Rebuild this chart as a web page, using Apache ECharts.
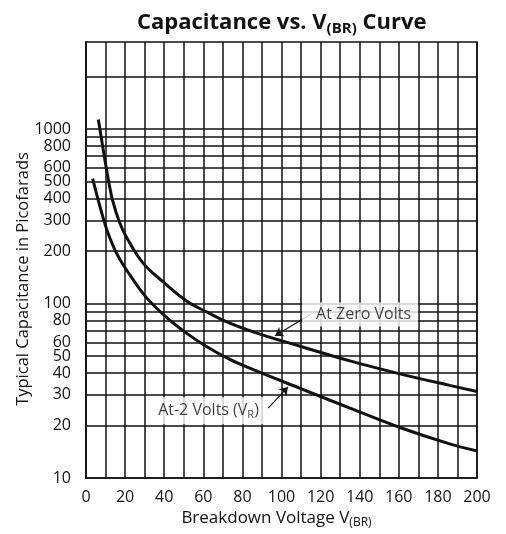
<!DOCTYPE html>
<html><head><meta charset="utf-8">
<script src="https://cdn.jsdelivr.net/npm/echarts@6/dist/echarts.min.js"></script>
<style>html,body{margin:0;padding:0;background:#fff}#c{width:506px;height:534px}</style>
</head><body><div id="c"></div>
<script>
// Data
const zeroVoltsV = [6.3, 9.7, 11.6, 13.6, 17, 20.5, 29, 39.2, 51.2, 61.4, 73.3, 87, 109.5, 135, 160.6, 186, 200];
const zeroVoltsC = [1137, 664, 503, 391, 296, 243, 172, 134, 104, 90, 77.5, 68, 57, 47, 39.6, 34, 31.4];
const minus2V = [3.4, 7.7, 11.1, 16.2, 22.1, 30.7, 40.9, 51.2, 61.4, 73.3, 83.7, 109.5, 135, 160.6, 186, 200];
const minus2C = [521, 342, 257, 189, 148, 109, 84, 68, 57, 48.1, 42.7, 32.7, 25.2, 19.5, 15.7, 14.3];
const yTickLabels = [10, 20, 30, 40, 50, 60, 80, 100, 200, 300, 400, 500, 600, 800, 1000];
const yGridValues = [20, 30, 40, 50, 60, 70, 80, 90, 100, 200, 300, 400, 500, 600, 700, 800, 900, 1000, 2000];
const xMin = 0, xMax = 200, xGridStep = 10, xLabelStep = 20;
const yMin = 10, yMax = 3162;
// annotations: label centre, arrow [start, tip]
const zeroLabel = [140.2, 86.8];
const zeroArrow = [[115.4, 87.5], [96.7, 65.5]];
const m2Label = [61.9, 24.3];
const m2Arrow = [[93.2, 25.2], [103.3, 33.3]];

const FONT = 'Open Sans';
const INK = '#111';
const pair = (xs, ys) => xs.map((x, i) => [x, ys[i]]);

const chart = echarts.init(document.getElementById('c'), null, {renderer: 'canvas'});
chart.setOption({
  animation: false,
  backgroundColor: '#fff',
  title: {
    text: '{a|Capacitance vs. V}{s|(BR)}{a| Curve}',
    left: 132, top: 3,
    textStyle: {
      rich: {
        a: {fontFamily: FONT, fontWeight: 'bold', fontSize: 22, color: INK, lineHeight: 30},
        s: {fontFamily: FONT, fontWeight: 'bold', fontSize: 15, color: INK, padding: [11, 0, 0, 0], lineHeight: 30}
      }
    }
  },
  graphic: [{
    type: 'text', x: 23, y: 279, rotation: Math.PI / 2, silent: true,
    style: {text: 'Typical Capacitance in Picofarads', fontFamily: FONT, fontSize: 16.5, fill: INK,
      align: 'center', verticalAlign: 'middle'}
  }],
  grid: {left: 86, right: 29, top: 42, bottom: 52, show: true, borderColor: INK, borderWidth: 1.5, containLabel: false},
  xAxis: {
    type: 'value', min: xMin, max: xMax, interval: xGridStep,
    name: 'Breakdown Voltage V{s|(BR)}', nameLocation: 'middle', nameGap: 29,
    nameTextStyle: {fontFamily: FONT, fontSize: 17, color: INK, padding: [0, 10, 0, 0],
      rich: {s: {fontFamily: FONT, fontSize: 12, color: INK, padding: [9, 0, 0, 0]}}},
    axisLine: {show: true, lineStyle: {color: INK, width: 1.5}},
    axisTick: {show: false},
    axisLabel: {fontFamily: FONT, fontSize: 16, color: INK, margin: 11,
      formatter: v => (v % xLabelStep === 0 ? String(v) : '')},
    splitLine: {show: true, lineStyle: {color: INK, width: 1.5}}
  },
  yAxis: {
    type: 'log', logBase: 10, min: yMin, max: yMax,
    axisLine: {show: true, lineStyle: {color: INK, width: 1.5}},
    axisTick: {show: false},
    axisLabel: {fontFamily: FONT, fontSize: 16, color: INK, margin: 15, customValues: yTickLabels,
      formatter: v => String(Math.round(v))},
    splitLine: {show: false},
    minorSplitLine: {show: false}
  },
  series: [
    {
      type: 'line', data: [], z: 1, silent: true,
      markLine: {
        silent: true, symbol: 'none', label: {show: false}, animation: false,
        lineStyle: {color: INK, width: 1.5, type: 'solid'},
        data: yGridValues.map(v => ({yAxis: v}))
      }
    },
    {
      name: 'At Zero Volts', type: 'line', smooth: 0.4, showSymbol: false, z: 3,
      lineStyle: {color: INK, width: 3}, data: pair(zeroVoltsV, zeroVoltsC)
    },
    {
      name: 'At-2 Volts (VR)', type: 'line', smooth: 0.35, showSymbol: false, z: 3,
      lineStyle: {color: INK, width: 3}, data: pair(minus2V, minus2C)
    },
    {
      type: 'scatter', symbolSize: 0, z: 5, silent: true,
      data: [
        {value: zeroLabel, label: {formatter: 'At Zero Volts', padding: [4, 7, 4, 14]}},
        {value: m2Label, label: {formatter: '{a|At-2 Volts (V}{s|R}{a|)}', padding: [4, 7, 4, 10]}}
      ],
      label: {
        show: true, position: 'inside', backgroundColor: '#fff',
        fontFamily: FONT, fontSize: 16, color: INK,
        rich: {
          a: {fontFamily: FONT, fontSize: 16, color: INK},
          s: {fontFamily: FONT, fontSize: 11, color: INK, padding: [8, 0, 0, 0]}
        }
      }
    },
    {
      type: 'line', data: [], z: 6, silent: true,
      markLine: {
        silent: true, symbol: ['none', 'arrow'], symbolSize: 8, label: {show: false},
        lineStyle: {color: INK, width: 1.2, type: 'solid'},
        data: [
          [{coord: zeroArrow[0]}, {coord: zeroArrow[1]}],
          [{coord: m2Arrow[0]}, {coord: m2Arrow[1]}]
        ]
      }
    }
  ]
});
</script></body></html>
